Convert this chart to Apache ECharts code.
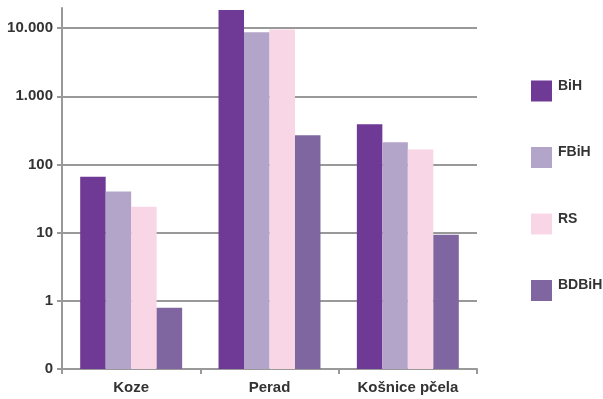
<!DOCTYPE html>
<html><head><meta charset="utf-8">
<script src="https://cdn.jsdelivr.net/npm/echarts@6/dist/echarts.min.js"></script>
<style>html,body{margin:0;padding:0;background:#fff}#c{width:603px;height:399px}</style>
</head><body><div id="c"></div>
<script>
var categories = ['Koze', 'Perad', 'Košnice pčela'];
var seriesNames = ['BiH', 'FBiH', 'RS', 'BDBiH'];
var valBiH = [66, 18400, 387];
var valFBiH = [40, 8700, 211];
var valRS = [24, 9500, 166];
var valBDBiH = [0.79, 267, 9.3];
var colors = ['#6f3996', '#b3a4c9', '#f8d6e6', '#7f66a1'];
var yMin = 0.1, yMax = 19700;

function fmtY(v) {
  var l = Math.log10(v);
  if (Math.abs(l - Math.round(l)) > 1e-6) return '';
  if (v < 0.5) return '0';
  return String(Math.round(v)).replace(/\B(?=(\d{3})+(?!\d))/g, '.');
}

var font = '"Liberation Sans", Arial, sans-serif';
var data = [valBiH, valFBiH, valRS, valBDBiH];
var groupRatio = 0.737;

function makeRender(si) {
  return function (params, api) {
    var c = api.value(0);
    var v = api.value(1);
    var top = api.coord([c, v]);
    var base = api.coord([c, yMin]);
    var band = api.coord([1, 1])[0] - api.coord([0, 1])[0];
    var groupW = band * groupRatio;
    var barW = groupW / seriesNames.length;
    var x = top[0] - groupW / 2 + si * barW;
    return {
      type: 'rect',
      shape: {x: x, y: top[1], width: barW, height: base[1] - top[1]},
      style: {fill: api.visual('color')}
    };
  };
}

var chart = echarts.init(document.getElementById('c'), null, {renderer: 'canvas'});
chart.setOption({
  animation: false,
  grid: {left: 62, right: 126, top: 8, bottom: 30, containLabel: false, outerBoundsMode: 'none'},
  legend: {
    orient: 'vertical', left: 531, top: 79, padding: 0,
    itemWidth: 21, itemHeight: 21, itemGap: 44,
    icon: 'rect',
    formatter: function (n) { return '{t|' + n + '}'; },
    textStyle: {
      fontFamily: font, fontSize: 14, color: '#333', fontWeight: 'bold',
      rich: {t: {fontFamily: font, fontSize: 14, color: '#333', fontWeight: 'bold', padding: [0, 0, 10, 1]}}
    },
    data: seriesNames
  },
  xAxis: {
    type: 'category', data: categories,
    axisLine: {lineStyle: {color: '#999', width: 2}},
    axisTick: {show: true, length: 5, lineStyle: {color: '#999', width: 2}},
    axisLabel: {fontFamily: font, fontSize: 15, color: '#333', fontWeight: 'bold', margin: 11, interval: 0}
  },
  yAxis: {
    type: 'log', logBase: 10, min: yMin, max: yMax,
    axisLine: {show: true, lineStyle: {color: '#999', width: 2}},
    axisTick: {show: true, length: 5, lineStyle: {color: '#999', width: 2}},
    axisLabel: {fontFamily: font, fontSize: 15, color: '#333', fontWeight: 'bold', margin: 9, formatter: fmtY, showMaxLabel: false},
    splitLine: {show: true, lineStyle: {color: ['#999', '#999', '#999', '#999', '#999', '#999', 'rgba(0,0,0,0)'], width: 2}}
  },
  series: seriesNames.map(function (n, i) {
    return {
      name: n, type: 'custom',
      renderItem: makeRender(i),
      encode: {x: 0, y: 1},
      data: data[i].map(function (v, k) { return [k, v]; }),
      itemStyle: {color: colors[i]},
      z: 3
    };
  })
});
</script></body></html>
